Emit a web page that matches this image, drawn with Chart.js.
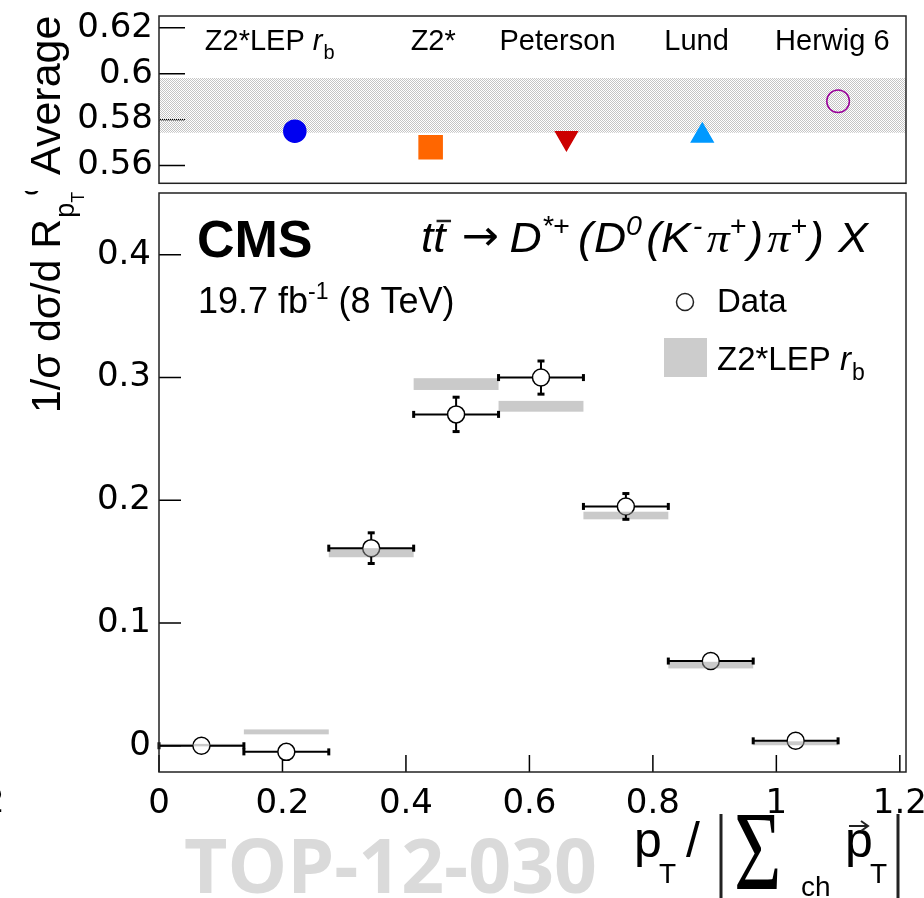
<!DOCTYPE html>
<html>
<head>
<meta charset="utf-8">
<script src="https://cdn.jsdelivr.net/npm/chart.js@4.4.1/dist/chart.umd.min.js"></script>
<style>
  html, body { margin: 0; padding: 0; background: #fff; }
  #wrap { position: relative; width: 924px; height: 898px; overflow: hidden; }
  #mainplot, #avgplot { position: absolute; left: 0; top: 0; }
</style>
</head>
<body>
<div id="wrap">
  <canvas id="mainplot" width="924" height="898"></canvas>
  <canvas id="avgplot" width="924" height="191"></canvas>
</div>
<script>
// binned R_pT^ch distribution, D*+ channel
const binLo  = [0, 0.1375, 0.275, 0.4125, 0.55, 0.6875, 0.825, 0.9625];
const binHi  = [0.1375, 0.275, 0.4125, 0.55, 0.6875, 0.825, 0.9625, 1.1];
const dataVal = [0.000, -0.005, 0.161, 0.270, 0.300, 0.195, 0.069, 0.004];
const dataErr = [0.002, 0.003, 0.0125, 0.014, 0.0135, 0.0105, 0.003, 0.002];
const mcVal  = [0.0005, 0.0113, 0.1573, 0.2947, 0.2766, 0.1876, 0.0657, 0.002];
const mcErr  = [0.001, 0.002, 0.0037, 0.0048, 0.0044, 0.0031, 0.0027, 0.0016];

// mean values per fragmentation model, and the measured mean
const models   = ['Z2*LEP r_b', 'Z2*', 'Peterson', 'Lund', 'Herwig 6'];
const modelAvg = [0.575, 0.568, 0.572, 0.573, 0.588];
const dataAvg = 0.5862;
const dataAvgErr = 0.0119;

const SANS = "'Liberation Sans', Arial, Helvetica, sans-serif";
const SERIF = "'Liberation Serif', 'DejaVu Serif', serif";
const TICKFONT = { family: "'DejaVu Sans', sans-serif", size: 34 };
Chart.defaults.font.family = SANS;
Chart.defaults.color = '#000';

const fmt = v => String(+v.toFixed(2));

// marker look for each model
const modelStyle = [
  { style: 'circle',   r: 11,   rot: 0,   fill: '#0000f0', line: '#0000f0' },
  { style: 'rect',     r: 16.3, rot: 0,   fill: '#ff6600', line: '#ff6600' },
  { style: 'triangle', r: 12.5, rot: 180, fill: '#cc0000', line: '#cc0000' },
  { style: 'triangle', r: 12.5, rot: 0,   fill: '#0099ff', line: '#0099ff' },
  { style: 'circle',   r: 11.3, rot: 0,   fill: 'rgba(0,0,0,0)', line: '#990099' }
];
const labelShift = [-90, -20, -67, -38, -63];

// draws a run of text pieces: [text, font, dy, extraSpace]
function rich(ctx, x, y, parts) {
  for (const p of parts) {
    ctx.font = p[1];
    ctx.fillText(p[0], x, y + (p[2] || 0));
    x += ctx.measureText(p[0]).width + (p[3] || 0);
  }
  return x;
}

function modelLabel(ctx, name, x, y, size) {
  if (name.endsWith(' r_b')) {
    rich(ctx, x, y, [
      [name.slice(0, -3), size + 'px ' + SANS],
      ['r', 'italic ' + size + 'px ' + SANS, 0, 1],
      ['b', Math.round(size * 0.7) + 'px ' + SANS, size * 0.3]
    ]);
  } else {
    ctx.font = size + 'px ' + SANS;
    ctx.fillText(name, x, y);
  }
}

function insideTicks(chart, axis, len) {
  const ctx = chart.ctx, a = chart.chartArea, s = chart.scales[axis];
  ctx.save();
  ctx.strokeStyle = '#000';
  ctx.lineWidth = 1.5;
  ctx.beginPath();
  s.ticks.forEach(t => {
    const p = s.getPixelForValue(t.value);
    if (axis === 'x') { ctx.moveTo(p, a.bottom); ctx.lineTo(p, a.bottom - len); }
    else { ctx.moveTo(a.left, p); ctx.lineTo(a.left + len, p); }
  });
  ctx.stroke();
  ctx.restore();
}

const R_DATA = 8.5;

const mainDecor = {
  id: 'mainDecor',
  beforeDatasetsDraw(chart) {
    insideTicks(chart, 'x', 17);
    insideTicks(chart, 'y', 22);
  },
  afterDatasetsDraw(chart) {
    const ctx = chart.ctx, xs = chart.scales.x, ys = chart.scales.y;
    ctx.save();
    // simulation bands
    ctx.fillStyle = 'rgba(150,150,150,0.5)';
    binLo.forEach((lo, i) => {
      const x0 = xs.getPixelForValue(lo), x1 = xs.getPixelForValue(binHi[i]);
      const y0 = ys.getPixelForValue(mcVal[i] + mcErr[i]), y1 = ys.getPixelForValue(mcVal[i] - mcErr[i]);
      ctx.fillRect(x0, y0, x1 - x0, Math.max(y1 - y0, 1));
    });
    // data error bars, kept clear of the markers
    ctx.strokeStyle = '#000';
    ctx.fillStyle = '#000';
    ctx.lineWidth = 2;
    binLo.forEach((lo, i) => {
      const cx = xs.getPixelForValue((lo + binHi[i]) / 2), cy = ys.getPixelForValue(dataVal[i]);
      const x0 = xs.getPixelForValue(lo), x1 = xs.getPixelForValue(binHi[i]);
      const yt = ys.getPixelForValue(dataVal[i] + dataErr[i]), yb = ys.getPixelForValue(dataVal[i] - dataErr[i]);
      ctx.beginPath();
      ctx.moveTo(x0, cy); ctx.lineTo(cx - R_DATA, cy);
      ctx.moveTo(cx + R_DATA, cy); ctx.lineTo(x1, cy);
      const vert = yt < cy - R_DATA;
      if (vert) {
        ctx.moveTo(cx, cy - R_DATA); ctx.lineTo(cx, yt);
        ctx.moveTo(cx, cy + R_DATA); ctx.lineTo(cx, yb);
      }
      ctx.stroke();
      ctx.fillRect(x0 - 1.5, cy - 3.5, 3, 7);
      ctx.fillRect(x1 - 1.5, cy - 3.5, 3, 7);
      if (vert) {
        ctx.fillRect(cx - 3.5, yt - 1.5, 7, 3);
        ctx.fillRect(cx - 3.5, yb - 1.5, 7, 3);
      }
    });
    ctx.restore();
  },
  afterDraw(chart) {
    const ctx = chart.ctx, a = chart.chartArea;
    ctx.save();
    ctx.strokeStyle = '#222';
    ctx.lineWidth = 1.5;
    ctx.strokeRect(a.left, a.top, a.right - a.left, a.bottom - a.top);

    ctx.fillStyle = '#000';
    ctx.textAlign = 'left';
    ctx.textBaseline = 'alphabetic';

    // CMS label and luminosity
    ctx.font = 'bold 52px ' + SANS;
    ctx.fillText('CMS', 197, 257);
    rich(ctx, 198, 313, [
      ['19.7 fb', '36px ' + SANS],
      ['-1', '23px ' + SANS, -14],
      [' (8 TeV)', '36px ' + SANS]
    ]);

    // decay channel
    ctx.save();
    ctx.translate(421, 252);
    ctx.scale(1.06, 1);
    const it = 'italic 42px ' + SANS, sup = 'italic 27px ' + SANS, pi = 'italic 43px ' + SERIF;
    let x = rich(ctx, 0, 0, [['t', it]]);
    const tw = ctx.measureText('t').width;
    ctx.fillText('t', x, 0);
    ctx.lineWidth = 2.5;
    ctx.beginPath(); ctx.moveTo(x + 3, -31); ctx.lineTo(x + tw + 5, -31); ctx.stroke();
    x += tw + 15;
    x = rich(ctx, x, -2, [['\u2192', '42px ' + "'DejaVu Sans', sans-serif", 0, 10]]);
    rich(ctx, x, 0, [
      ['D', it], ['*+', sup, -17, 8], ['(', it, 0, 1], ['D', it], ['0', sup, -17, 4], ['(', it],
      ['K', it, 0, 2], ['-', sup, -17, 4], ['\u03c0', pi], ['+', sup, -17, 2], [')', it, 0, 4],
      ['\u03c0', pi], ['+', sup, -17, 2], [')', it, 0, 2], [' X', it]
    ]);
    ctx.restore();

    // legend
    ctx.lineWidth = 1.5;
    ctx.fillStyle = '#fff';
    ctx.beginPath(); ctx.arc(685, 302, R_DATA, 0, Math.PI * 2); ctx.fill(); ctx.stroke();
    ctx.fillStyle = '#ccc';
    ctx.fillRect(664, 338, 43, 39);
    ctx.fillStyle = '#000';
    ctx.font = '33px ' + SANS;
    ctx.fillText('Data', 717, 312);
    modelLabel(ctx, models[0], 717, 370, 33);

    // y title
    ctx.save();
    ctx.translate(60, 413);
    ctx.rotate(-Math.PI / 2);
    let tx = rich(ctx, 0, 0, [['1/\u03c3 d\u03c3/d R', '41px ' + SANS, 0, 1]]);
    rich(ctx, tx, 0, [['p', '27px ' + SANS, 14], ['T', '18px ' + SANS, 24]]);
    rich(ctx, tx + 22, 0, [['ch', '28px ' + SANS, -21]]);
    ctx.restore();

    // clipped label left over at the page edge
    ctx.font = '34px ' + TICKFONT.family;
    ctx.fillText('2', -17, 812);

    // x title
    ctx.font = '50px ' + SANS;
    ctx.fillText('p', 634, 857);
    ctx.fillText('/', 686, 857);
    ctx.fillText('p', 845, 857);
    ctx.font = '28px ' + SANS;
    ctx.fillText('T', 659, 883);
    ctx.fillText('ch', 801, 896);
    ctx.fillText('T', 870, 883);
    ctx.lineWidth = 3;
    ctx.beginPath();
    ctx.moveTo(721, 814); ctx.lineTo(721, 898);
    ctx.moveTo(898, 814); ctx.lineTo(898, 898);
    ctx.stroke();
    ctx.lineWidth = 2;
    ctx.beginPath();
    ctx.moveTo(849, 826); ctx.lineTo(867, 826);
    ctx.moveTo(861, 821); ctx.lineTo(868, 826); ctx.lineTo(861, 831);
    ctx.stroke();
    ctx.save();
    ctx.translate(734, 889);
    ctx.scale(0.8, 1.1);
    ctx.font = '102px ' + SERIF;
    ctx.fillText('\u03a3', 0, 0);
    ctx.restore();

    // analysis tag
    ctx.fillStyle = '#dadada';
    ctx.font = 'bold 75px "Open Sans", ' + SANS;
    ctx.fillText('TOP-12-030', 184, 893);
    ctx.restore();
  }
};

new Chart(document.getElementById('mainplot'), {
  type: 'scatter',
  data: {
    datasets: [{
      label: 'Data',
      data: binLo.map((lo, i) => ({ x: (lo + binHi[i]) / 2, y: dataVal[i] })),
      pointStyle: 'circle',
      pointRadius: R_DATA,
      pointBackgroundColor: '#fff',
      pointBorderColor: '#000',
      pointBorderWidth: 1.5
    }]
  },
  options: {
    responsive: false,
    animation: false,
    layout: { autoPadding: false, padding: { left: 0, right: 18, top: 193, bottom: 0 } },
    plugins: { legend: { display: false }, tooltip: { enabled: false } },
    scales: {
      x: {
        type: 'linear', min: 0, max: 1.21,
        grid: { display: false, drawTicks: false }, border: { display: false },
        ticks: { stepSize: 0.2, includeBounds: false, padding: 12, autoSkip: false, maxRotation: 0,
                 font: TICKFONT, callback: fmt },
        afterFit: s => { s.height = 126; s.paddingLeft = 0; s.paddingRight = 0; }
      },
      y: {
        type: 'linear', min: -0.0214, max: 0.4504,
        grid: { display: false, drawTicks: false }, border: { display: false },
        ticks: { stepSize: 0.1, includeBounds: false, padding: 8, autoSkip: false,
                 font: TICKFONT, callback: fmt },
        afterFit: s => { s.width = 159; s.paddingTop = 0; s.paddingBottom = 0; }
      }
    }
  },
  plugins: [mainDecor]
});

const avgDecor = {
  id: 'avgDecor',
  beforeDraw(chart) {
    const ctx = chart.ctx;
    ctx.save();
    ctx.fillStyle = '#fff';
    ctx.fillRect(0, 0, chart.width, chart.height);
    ctx.restore();
  },
  beforeDatasetsDraw(chart) {
    insideTicks(chart, 'y', 26);
    const ctx = chart.ctx, a = chart.chartArea, ys = chart.scales.y;
    const pc = document.createElement('canvas');
    pc.width = 2; pc.height = 2;
    const pctx = pc.getContext('2d');
    pctx.fillStyle = '#c4c4c4';
    pctx.fillRect(0, 0, 1, 1);
    pctx.fillRect(1, 1, 1, 1);
    const y0 = ys.getPixelForValue(dataAvg + dataAvgErr), y1 = ys.getPixelForValue(dataAvg - dataAvgErr);
    ctx.save();
    ctx.fillStyle = ctx.createPattern(pc, 'repeat');
    ctx.fillRect(a.left, y0, a.right - a.left, y1 - y0);
    ctx.restore();
  },
  afterDraw(chart) {
    const ctx = chart.ctx, a = chart.chartArea, xs = chart.scales.x;
    ctx.save();
    ctx.strokeStyle = '#222';
    ctx.lineWidth = 1.5;
    ctx.strokeRect(a.left, a.top, a.right - a.left, a.bottom - a.top);
    ctx.fillStyle = '#000';
    ctx.textBaseline = 'alphabetic';
    models.forEach((m, i) => modelLabel(ctx, m, xs.getPixelForValue(i + 1) + labelShift[i], 50, 29));
    ctx.translate(60, 175);
    ctx.rotate(-Math.PI / 2);
    ctx.font = '43px ' + SANS;
    ctx.fillText('Average', 0, 0);
    ctx.restore();
  }
};

new Chart(document.getElementById('avgplot'), {
  type: 'scatter',
  data: {
    datasets: models.map((m, i) => ({
      label: m,
      data: [{ x: i + 1, y: modelAvg[i] }],
      pointStyle: modelStyle[i].style,
      pointRadius: modelStyle[i].r,
      pointRotation: modelStyle[i].rot,
      pointBackgroundColor: modelStyle[i].fill,
      pointBorderColor: modelStyle[i].line,
      pointBorderWidth: 1.5
    }))
  },
  options: {
    responsive: false,
    animation: false,
    layout: { autoPadding: false, padding: { left: 0, right: 18, top: 16, bottom: 7.7 } },
    plugins: { legend: { display: false }, tooltip: { enabled: false } },
    scales: {
      x: { type: 'linear', display: false, min: 0, max: 5.5 },
      y: {
        type: 'linear', min: 0.5523, max: 0.6251,
        grid: { display: false, drawTicks: false }, border: { display: false },
        ticks: { stepSize: 0.02, includeBounds: false, padding: 6, autoSkip: false,
                 font: TICKFONT, callback: fmt },
        afterFit: s => { s.width = 159; s.paddingTop = 0; s.paddingBottom = 0; }
      }
    }
  },
  plugins: [avgDecor]
});
</script>
</body>
</html>
